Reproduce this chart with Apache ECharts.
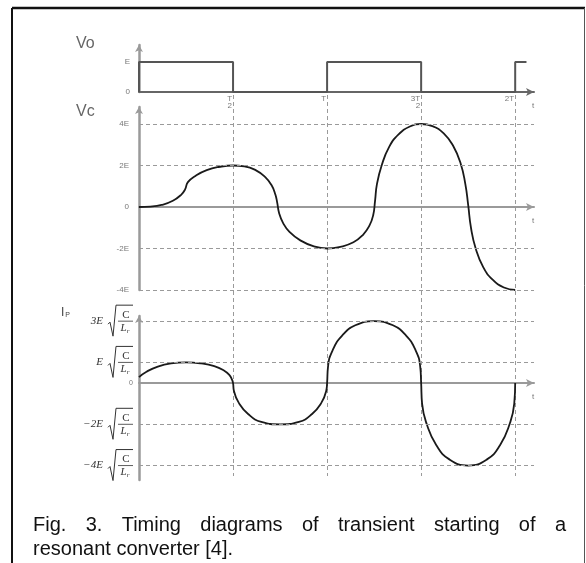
<!DOCTYPE html>
<html>
<head>
<meta charset="utf-8">
<script src="https://cdn.jsdelivr.net/npm/echarts@6/dist/echarts.min.js"></script>
<style>
html, body { margin: 0; padding: 0; background: #fff; }
#chart { width: 586px; height: 563px; }
</style>
</head>
<body>
<div id="chart"></div>
<script>
// time in units of T, Vo / Vc in units of E, Ip in units of E*sqrt(C/Lr)
var voPoints = [[0, 0], [0, 1], [0.5, 1], [0.5, 0], [1, 0], [1, 1], [1.5, 1], [1.5, 0], [2, 0], [2, 1], [2.06, 1]];
var vcPoints = [
  [0, 0], [0.06, 0.02], [0.12, 0.1], [0.18, 0.3], [0.225, 0.6], [0.245, 0.85],
  [0.26, 1.2], [0.3, 1.5], [0.36, 1.78], [0.43, 1.94], [0.5, 2.0], [0.56, 1.96], [0.62, 1.78],
  [0.67, 1.45], [0.705, 1.05], [0.725, 0.6], [0.735, 0.2], [0.745, -0.3], [0.765, -0.75],
  [0.8, -1.2], [0.86, -1.62], [0.93, -1.9], [1.0, -2.0], [1.07, -1.92], [1.14, -1.7],
  [1.19, -1.35], [1.225, -0.9], [1.245, -0.4], [1.255, 0.3], [1.265, 1.1], [1.29, 2.0],
  [1.33, 2.9], [1.38, 3.5], [1.44, 3.88], [1.5, 4.0], [1.56, 3.9], [1.62, 3.55], [1.67, 2.95],
  [1.71, 2.1], [1.735, 1.1], [1.75, 0.1], [1.765, -1.0], [1.79, -2.0], [1.83, -2.9],
  [1.88, -3.5], [1.94, -3.88], [2.0, -4.0]
];
var ipPoints = [
  [0, 0.29], [0.04, 0.55], [0.1, 0.8], [0.17, 0.95], [0.25, 1.0], [0.33, 0.95], [0.4, 0.82],
  [0.45, 0.62], [0.48, 0.4], [0.495, 0.15], [0.5, 0], [0.505, -0.4], [0.53, -0.95], [0.58, -1.5],
  [0.65, -1.88], [0.75, -2.0], [0.85, -1.88], [0.92, -1.5], [0.97, -0.95], [0.995, -0.4],
  [1.0, 0], [1.005, 0.8], [1.03, 1.6], [1.08, 2.3], [1.15, 2.8], [1.25, 3.0], [1.35, 2.8],
  [1.42, 2.3], [1.47, 1.6], [1.495, 0.8], [1.5, 0], [1.505, -1.0], [1.53, -2.0], [1.58, -3.0],
  [1.65, -3.7], [1.75, -4.0], [1.85, -3.7], [1.92, -3.0], [1.97, -2.0], [1.995, -1.0], [2.0, 0]
];
var timeTicks = [0.5, 1, 1.5, 2];
var timeLabels = ['T/2', 'T', '3T/2', '2T'];
var voTicks = [0, 1];
var voLabels = ['0', 'E'];
var vcTicks = [-4, -2, 0, 2, 4];
var vcLabels = ['-4E', '-2E', '0', '2E', '4E'];
var vcLevels = [4, 2, -2, -4];
var ipLevels = [3, 1, -2, -4];
var ipLabels = ['3E', 'E', '\u22122E', '\u22124E'];
var caption1 = 'Fig. 3. Timing diagrams of transient starting of a';
var caption2 = 'resonant converter [4].';

var chart = echarts.init(document.getElementById('chart'));

var axisGray = '#9a9a9a';
var dash = { color: '#9a9a9a', width: 1, type: [4, 3] };

function xAxisBase(grid) {
  return {
    type: 'value', gridIndex: grid, min: 0, max: 2.1,
    axisLine: { show: true, onZero: true, lineStyle: { color: axisGray, width: 2 },
      symbol: ['none', 'arrow'], symbolSize: [6, 8] },
    axisTick: { show: false },
    axisLabel: { show: false },
    splitLine: { show: false },
    name: 't', nameLocation: 'end', nameGap: -2,
    nameTextStyle: { fontSize: 8, color: '#777', verticalAlign: 'top', padding: [10, 0, 0, 0] }
  };
}
function yAxisBase(grid, min, max) {
  return {
    type: 'value', gridIndex: grid, min: min, max: max,
    axisLine: { show: true, lineStyle: { color: axisGray, width: 2.5 },
      symbol: ['none', 'arrow'], symbolSize: [6, 7] },
    axisTick: { show: false },
    splitLine: { show: false },
    axisLabel: { show: false }
  };
}
function levelLines(levels) {
  return {
    silent: true, symbol: 'none', animation: false,
    label: { show: false },
    lineStyle: dash,
    data: levels.map(function (v) { return { yAxis: v }; })
  };
}

var xVo = xAxisBase(0);
xVo.axisLine.lineStyle.color = '#666';
xVo.axisLabel = {
  show: true, customValues: timeTicks, margin: 3, color: '#777', fontSize: 8, lineHeight: 7,
  align: 'right', padding: [0, 1, 0, 0],
  formatter: function (v) {
    var s = timeLabels[timeTicks.indexOf(v)] || '';
    var p = s.split('/');
    return p.length > 1 ? '{n|' + p[0] + '}\n{n|' + p[1] + '}' : '{n|' + s + '}';
  },
  rich: { n: { fontSize: 8, lineHeight: 7, color: '#777', align: 'right' } }
};

var yVo = yAxisBase(0, 0, 1.57);
yVo.axisLabel = { show: true, customValues: voTicks, fontSize: 8, color: '#777', margin: 9,
  formatter: function (v) { return voLabels[voTicks.indexOf(v)]; } };

var yVc = yAxisBase(1, -4, 4.82);
yVc.axisLabel = { show: true, customValues: vcTicks, fontSize: 8, color: '#777', margin: 10,
  formatter: function (v) { return vcLabels[vcTicks.indexOf(v)]; } };

var yIp = yAxisBase(2, -4.7, 3.25);
var yDash = { type: 'value', gridIndex: 3, min: 0, max: 1, show: false };
var xDash = {
  type: 'value', gridIndex: 3, min: 0, max: 2.1, interval: 0.5,
  axisLine: { show: false }, axisTick: { show: false }, axisLabel: { show: false },
  splitLine: { show: true, showMinLine: false, showMaxLine: false, lineStyle: dash }
};

var curveStyle = { color: '#1a1a1a', width: 1.8 };
var option = {
  animation: false,
  backgroundColor: '#fff',
  grid: [
    { left: 139, width: 395, top: 45, height: 47 },
    { left: 139, width: 395, top: 107, height: 183 },
    { left: 139, width: 395, top: 316, height: 164 },
    { left: 139, width: 395, top: 95, height: 381 }
  ],
  xAxis: [xVo, xAxisBase(1), xAxisBase(2), xDash],
  yAxis: [yVo, yVc, yIp, yDash],
  series: [
    { type: 'line', xAxisIndex: 0, yAxisIndex: 0, data: voPoints, showSymbol: false,
      lineStyle: { color: '#555', width: 2 }, z: 3 },
    { type: 'line', xAxisIndex: 1, yAxisIndex: 1, data: vcPoints, showSymbol: false,
      smooth: 0.5, lineStyle: curveStyle, z: 3, markLine: levelLines(vcLevels) },
    { type: 'line', xAxisIndex: 2, yAxisIndex: 2, data: ipPoints, showSymbol: false,
      smooth: 0.5, lineStyle: curveStyle, z: 3, markLine: levelLines(ipLevels) }
  ]
};
chart.setOption(option);

// frame, panel titles, Ip tick labels with radicals, justified caption
var g = [];
g.push({ type: 'line', shape: { x1: 12, y1: 8, x2: 585, y2: 8 }, style: { stroke: '#111', lineWidth: 2.5 } });
g.push({ type: 'line', shape: { x1: 12, y1: 8, x2: 12, y2: 563 }, style: { stroke: '#111', lineWidth: 2 } });
g.push({ type: 'line', shape: { x1: 584.5, y1: 8, x2: 584.5, y2: 563 }, style: { stroke: '#555', lineWidth: 1 } });

var titleFont = '16px "Liberation Sans"';
g.push({ type: 'text', x: 76, y: 44, style: { text: 'Vo', font: titleFont, fill: '#666', verticalAlign: 'middle' } });
g.push({ type: 'text', x: 76, y: 112, style: { text: 'Vc', font: titleFont, fill: '#666', verticalAlign: 'middle' } });
g.push({ type: 'text', x: 61, y: 313, style: {
  text: '{a|I}{b|P}', verticalAlign: 'middle',
  rich: { a: { font: '12px "Liberation Sans"', fill: '#444' },
          b: { font: '7px "Liberation Sans"', fill: '#444', padding: [5, 0, 0, 1] } } } });

ipLevels.forEach(function (v, i) {
  var y = chart.convertToPixel({ gridIndex: 2 }, [0, v])[1];
  var xr = 133, xf = 117;
  g.push({ type: 'polyline', shape: { points: [[xf - 9, y + 3], [xf - 7, y + 1], [xf - 4, y + 15], [xf - 1, y - 16], [xr, y - 16]] },
    style: { stroke: '#333', lineWidth: 1, fill: null } });
  g.push({ type: 'line', shape: { x1: xf + 1, y1: y, x2: xr, y2: y }, style: { stroke: '#333', lineWidth: 0.8 } });
  g.push({ type: 'text', x: (xf + xr) / 2 + 1, y: y - 1, style: {
    text: 'C', font: '11px "Liberation Serif"', fill: '#333', align: 'center', verticalAlign: 'bottom' } });
  g.push({ type: 'text', x: (xf + xr) / 2, y: y + 1, style: {
    text: '{l|L}{s|r}', align: 'center', verticalAlign: 'top',
    rich: { l: { font: 'italic 11px "Liberation Serif"', fill: '#333' },
            s: { font: 'italic 7px "Liberation Serif"', fill: '#333', padding: [5, 0, 0, 0] } } } });
  g.push({ type: 'text', x: xf - 14, y: y, style: {
    text: ipLabels[i], font: 'italic 11px "Liberation Serif"', fill: '#333', align: 'right', verticalAlign: 'middle' } });
});
var y0 = chart.convertToPixel({ gridIndex: 2 }, [0, 0])[1];
g.push({ type: 'text', x: 133, y: y0, style: { text: '0', font: '7px "Liberation Sans"', fill: '#777', align: 'right', verticalAlign: 'middle' } });

var capFont = '20px "Liberation Sans"';
var ctx = document.createElement('canvas').getContext('2d');
ctx.font = capFont;
var words = caption1.split(' ');
var widths = words.map(function (w) { return ctx.measureText(w).width; });
var total = widths.reduce(function (a, b) { return a + b; }, 0);
var capLeft = 33, capRight = 566;
var gap = (capRight - capLeft - total) / (words.length - 1);
var cx = capLeft;
words.forEach(function (w, i) {
  g.push({ type: 'text', x: cx, y: 525, style: { text: w, font: capFont, fill: '#111', verticalAlign: 'middle' } });
  cx += widths[i] + gap;
});
g.push({ type: 'text', x: capLeft, y: 549, style: { text: caption2, font: capFont, fill: '#111', verticalAlign: 'middle' } });

chart.setOption({ graphic: { elements: g } });
</script>
</body>
</html>
